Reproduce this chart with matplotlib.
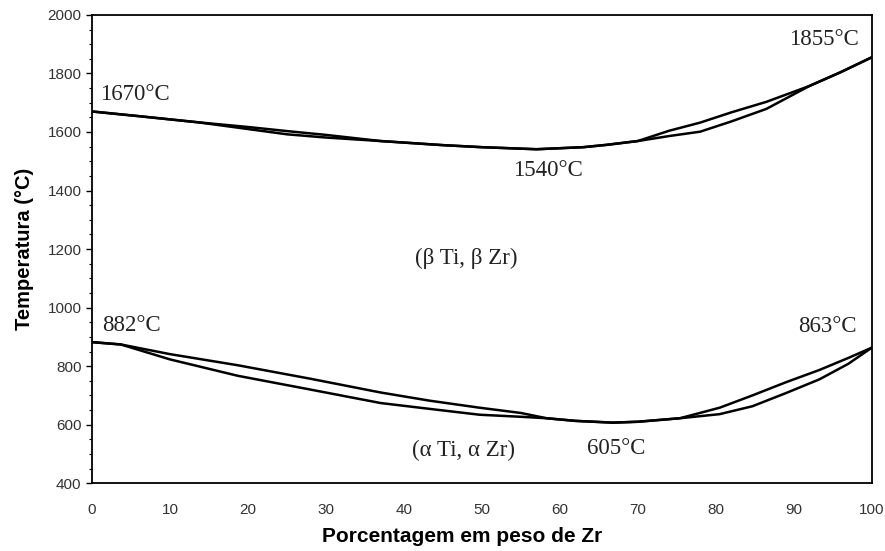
import matplotlib
matplotlib.use('Agg')
from matplotlib import pyplot
from matplotlib.ticker import MultipleLocator

# liquidus / solidus (upper lens)
x_up = [0, 6, 13.6, 20, 25, 30, 37, 45, 50, 57, 63, 66, 70, 74, 78, 82, 86.5, 92, 96, 100]
liquidus = [1670, 1654, 1633, 1617, 1603, 1590, 1569, 1555, 1548, 1541, 1548, 1556, 1569, 1604, 1632, 1667, 1703, 1757, 1804, 1855]
solidus = [1670, 1654, 1633, 1610, 1592, 1581, 1569, 1555, 1548, 1541, 1548, 1556, 1569, 1586, 1601, 1636, 1679, 1757, 1804, 1855]

# beta / alpha transus (lower lens)
x_lo = [0, 3.7, 10, 18.7, 28, 37, 43.3, 49.7, 55, 58.3, 62, 66.8, 70, 75.4, 80.5, 84.7, 89, 93.3, 97, 100]
transus_top = [882, 874, 841, 803, 757, 710, 682, 658, 640, 622, 613, 607, 610, 622, 658, 700, 745, 787, 828, 863]
transus_bot = [882, 874, 823, 767, 720, 674, 654, 634, 627, 622, 613, 607, 610, 622, 636, 663, 708, 755, 808, 863]

labels = ['1670°C', '1855°C', '1540°C', '(β Ti, β Zr)', '882°C', '863°C', '(α Ti, α Zr)', '605°C']
label_x = [1.0, 98.3, 58.5, 48.0, 1.3, 98.1, 47.7, 67.2]
label_y = [1728, 1915, 1469, 1168, 940, 935, 511, 518]
label_ha = ['left', 'right', 'center', 'center', 'left', 'right', 'center', 'center']

fig = pyplot.figure(figsize=(8.85, 5.51), dpi=100)
ax = fig.add_axes([0.104, 0.123, 0.881, 0.850])

for ys in (liquidus, solidus):
    ax.plot(x_up, ys, c='k', lw=1.8)
for ys in (transus_top, transus_bot):
    ax.plot(x_lo, ys, c='k', lw=1.8)

for t, x, y, ha in zip(labels, label_x, label_y, label_ha):
    ax.text(x, y, t, ha=ha, va='center', fontsize=16.5, family='Liberation Serif', color='#222222')

ax.axis(xmin=0, xmax=100, ymin=400, ymax=2000)
ax.xaxis.set_major_locator(MultipleLocator(10))
ax.yaxis.set_major_locator(MultipleLocator(200))
ax.yaxis.set_minor_locator(MultipleLocator(50))
ax.tick_params(axis='x', length=0, pad=14, labelsize=11, labelcolor='#333333')
ax.tick_params(axis='y', which='major', length=4, width=1, labelsize=11, labelcolor='#333333')
ax.tick_params(axis='y', which='minor', length=2, width=0.8)
for lab in ax.get_xticklabels() + ax.get_yticklabels():
    lab.set_family('Liberation Sans')
for s in ax.spines.values():
    s.set_linewidth(1.3)

ax.set_xlabel('Porcentagem em peso de Zr', fontsize=15, fontweight='bold', family='Liberation Sans')
ax.set_ylabel('Temperatura (°C)', fontsize=14.5, fontweight='bold', family='Liberation Sans')
ax.xaxis.set_label_coords(0.475, -0.093)
ax.yaxis.set_label_coords(-0.074, 0.5)

fig.savefig('out.png')
